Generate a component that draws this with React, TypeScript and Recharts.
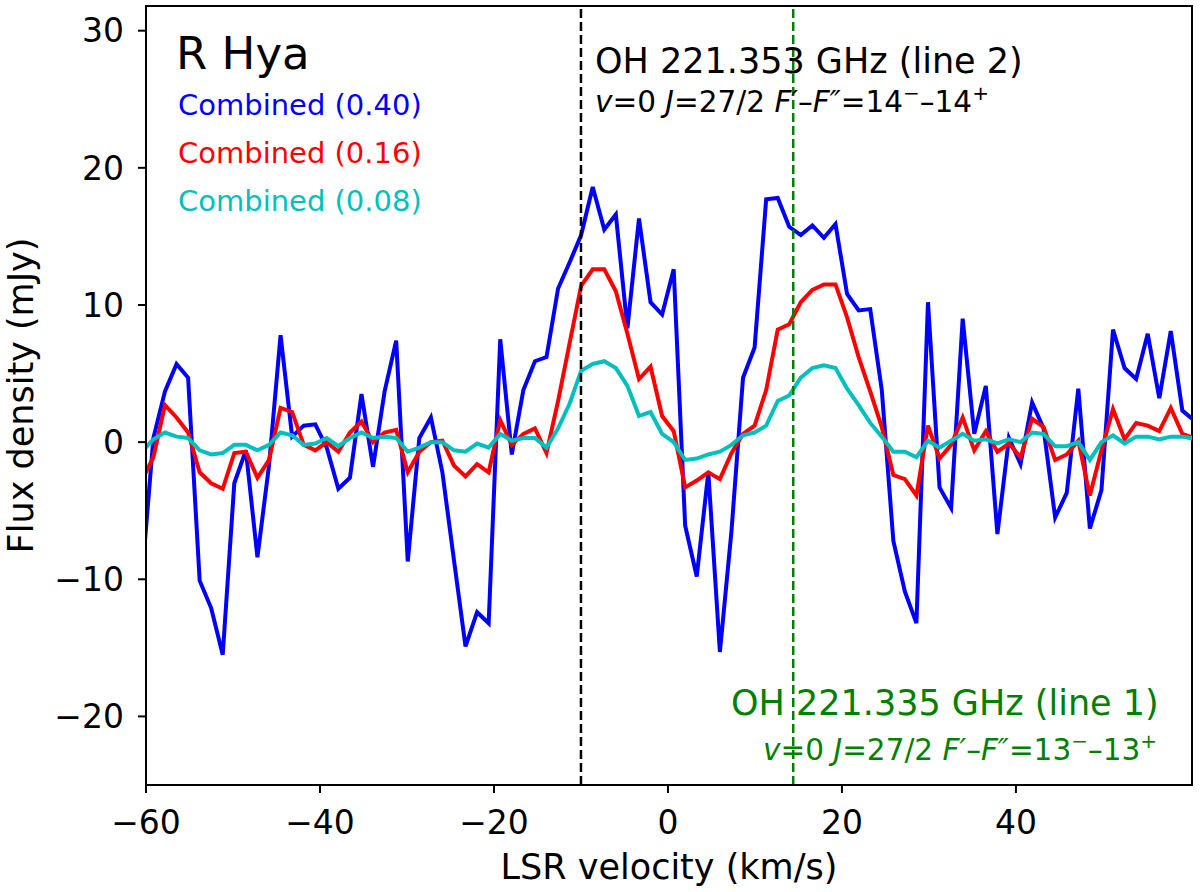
import {
    LineChart,
    Line,
    XAxis,
    YAxis,
    ReferenceLine,
    ReferenceArea,
} from 'recharts'

// channel velocities (km/s)
const VELOCITY = [
    -60.48, -59.15, -57.82, -56.49, -55.16, -53.83, -52.51, -51.18, -49.85, -48.52,
    -47.19, -45.86, -44.53, -43.2, -41.87, -40.54, -39.22, -37.89, -36.56, -35.23,
    -33.9, -32.57, -31.24, -29.91, -28.58, -27.25, -25.93, -24.6, -23.27, -21.94,
    -20.61, -19.28, -17.95, -16.62, -15.29, -13.96, -12.63, -11.31, -9.98, -8.65,
    -7.32, -5.99, -4.66, -3.33, -2.0, -0.67, 0.66, 1.98, 3.31, 4.64,
    5.97, 7.3, 8.63, 9.96, 11.29, 12.62, 13.94, 15.27, 16.6, 17.93,
    19.26, 20.59, 21.92, 23.25, 24.58, 25.91, 27.24, 28.56, 29.89, 31.22,
    32.55, 33.88, 35.21, 36.54, 37.87, 39.2, 40.53, 41.86, 43.18, 44.51,
    45.84, 47.17, 48.5, 49.83, 51.16, 52.49, 53.82, 55.15, 56.48, 57.8,
    59.13, 60.46,
]

// flux density (mJy), Combined (0.40)
const COMBINED_040 = [
    -10.0, 0.3, 3.7, 5.7, 4.7, -10.1, -12.1, -15.5, -3.0, -0.6,
    -8.4, -1.7, 7.8, 0.4, 1.2, 1.3, -0.4, -3.4, -2.6, 3.5,
    -1.8, 3.7, 7.4, -8.7, 0.3, 1.8, -2.2, -8.6, -14.9, -12.4,
    -13.2, 7.5, -0.9, 3.8, 5.9, 6.2, 11.2, 13.1, 15.1, 18.6,
    15.5, 16.6, 8.3, 16.3, 10.2, 9.3, 12.6, -6.1, -9.8, -2.2,
    -15.3, -6.5, 4.7, 6.9, 17.7, 17.8, 15.7, 15.1, 15.8, 14.9,
    15.9, 10.8, 9.6, 9.7, 3.8, -7.2, -10.9, -13.2, 10.2, -3.3,
    -4.8, 9.0, 0.6, 4.1, -6.7, 0.3, -1.6, 2.9, 1.0, -5.5,
    -3.7, 3.9, -6.3, -3.5, 8.2, 5.4, 4.6, 7.9, 3.2, 8.1,
    2.3, 1.6,
]

// Combined (0.16)
const COMBINED_016 = [
    -2.8, -1.1, 2.7, 1.8, 0.7, -2.2, -3.0, -3.4, -0.8, -0.7,
    -2.6, -1.3, 2.5, 2.2, -0.2, -0.6, 0.0, -0.7, 0.7, 1.5,
    0.0, 0.7, 0.9, -2.2, -0.7, 0.0, 0.1, -1.7, -2.5, -1.6,
    -2.2, 1.6, -0.2, 0.6, 1.0, -0.8, 3.0, 7.2, 11.4, 12.6,
    12.6, 11.0, 7.9, 4.6, 5.5, 1.9, 0.8, -3.3, -2.8, -2.2,
    -2.7, -0.8, 0.6, 1.2, 3.8, 8.2, 8.6, 10.2, 11.1, 11.5,
    11.5, 9.1, 6.2, 3.7, 1.1, -2.4, -2.7, -3.9, 1.2, -1.2,
    -0.2, 1.8, -0.6, 0.8, -0.7, -0.1, -1.1, 1.7, 1.1, -1.3,
    -0.9, 0.1, -3.9, -0.6, 2.4, 0.2, 1.4, 1.2, 0.8, 2.5,
    0.6, 0.3,
]

// Combined (0.08)
const COMBINED_008 = [
    -0.7, 0.2, 0.7, 0.4, 0.3, -0.6, -0.9, -0.8, -0.2, -0.2,
    -0.6, -0.2, 0.7, 0.5, -0.2, -0.1, 0.3, -0.3, 0.3, 0.7,
    0.3, 0.4, 0.3, -0.7, -0.4, 0.0, 0.0, -0.6, -0.7, -0.1,
    -0.4, 0.6, 0.1, 0.3, 0.3, -0.4, 1.0, 2.8, 5.2, 5.7,
    5.9, 5.4, 4.1, 1.9, 2.2, 0.6, 0.0, -1.3, -1.2, -0.9,
    -0.7, -0.2, 0.5, 0.7, 1.2, 3.0, 3.4, 4.7, 5.4, 5.6,
    5.4, 3.9, 2.7, 1.4, 0.4, -0.7, -0.7, -1.1, 0.1, -0.4,
    0.1, 0.6, 0.1, 0.2, -0.1, 0.2, 0.0, 0.7, 0.6, -0.3,
    -0.3, 0.0, -1.3, 0.0, 0.5, -0.1, 0.4, 0.4, 0.2, 0.4,
    0.4, 0.25,
]

const X_TICKS = [-60, -40, -20, 0, 20, 40]
const Y_TICKS = [-20, -10, 0, 10, 20, 30]
const X_DOMAIN = [-60, 60.24]
const Y_DOMAIN = [-25, 31.8]

const LINE2_V = -10 // OH 221.353 GHz
const LINE1_V = 14.4 // OH 221.335 GHz

const SERIES = [
    { key: 'c040', label: 'Combined (0.40)', color: '#0000ff', values: COMBINED_040 },
    { key: 'c016', label: 'Combined (0.16)', color: '#ff0000', values: COMBINED_016 },
    { key: 'c008', label: 'Combined (0.08)', color: '#00bfbf', values: COMBINED_008 },
]

const data = VELOCITY.map((v, i) => {
    const row: Record<string, number> = { v }
    SERIES.forEach(s => { row[s.key] = s.values[i] })
    return row
})

const FONT = '"DejaVu Sans", sans-serif'
const fmt = (v: number) => (v < 0 ? `\u2212${-v}` : `${v}`)

const W = 1200
const H = 892

// "v=0 J=27/2 F'–F''=N⁻–N⁺" with italic symbols and raised signs
const Transition = ({ n }: { n: number }) => (
    <>
        <tspan fontStyle="italic">v</tspan>
        <tspan>{'=0 '}</tspan>
        <tspan fontStyle="italic">J</tspan>
        <tspan>{'=27/2 '}</tspan>
        <tspan fontStyle="italic">{'F\u2032'}</tspan>
        <tspan>{'\u2013'}</tspan>
        <tspan fontStyle="italic">{'F\u2033'}</tspan>
        <tspan>{`=${n}`}</tspan>
        <tspan dy={-12} fontSize={20}>{'\u2212'}</tspan>
        <tspan dy={12}>{`\u2013${n}`}</tspan>
        <tspan dy={-12} fontSize={20}>+</tspan>
    </>
)

export default function App() {
    return (
        <div style={{ position: 'relative', width: W, height: H, fontFamily: FONT }}>
            <style>{'body{margin:0}'}</style>
            <LineChart width={W} height={H} data={data} margin={{ top: 6, right: 8, left: 0, bottom: 0 }}>
                <XAxis
                    dataKey="v"
                    type="number"
                    domain={X_DOMAIN}
                    allowDataOverflow
                    ticks={X_TICKS}
                    tickFormatter={fmt}
                    height={107}
                    tickSize={8}
                    tickMargin={18}
                    axisLine={{ stroke: '#000', strokeWidth: 2 }}
                    tickLine={{ stroke: '#000', strokeWidth: 2 }}
                    tick={{ fontSize: 33, fill: '#000', fontFamily: FONT }}
                    label={{
                        value: 'LSR velocity (km/s)',
                        position: 'insideBottom',
                        offset: 13,
                        style: { fontSize: 35, fill: '#000', fontFamily: FONT },
                    }}
                />
                <YAxis
                    type="number"
                    domain={Y_DOMAIN}
                    allowDataOverflow
                    ticks={Y_TICKS}
                    tickFormatter={fmt}
                    width={146}
                    tickSize={8}
                    tickMargin={14}
                    axisLine={{ stroke: '#000', strokeWidth: 2 }}
                    tickLine={{ stroke: '#000', strokeWidth: 2 }}
                    tick={{ fontSize: 33, fill: '#000', fontFamily: FONT }}
                    label={{
                        value: 'Flux density (mJy)',
                        angle: -90,
                        position: 'insideLeft',
                        offset: 21,
                        style: { fontSize: 35, fill: '#000', fontFamily: FONT, textAnchor: 'middle' },
                    }}
                />

                {SERIES.map(s => (
                    <Line
                        key={s.key}
                        dataKey={s.key}
                        type="linear"
                        stroke={s.color}
                        strokeWidth={4}
                        dot={false}
                        activeDot={false}
                        isAnimationActive={false}
                    />
                ))}

                <ReferenceLine x={LINE2_V} stroke="#000" strokeWidth={2.5} strokeDasharray="9 4" />
                <ReferenceLine x={LINE1_V} stroke="#008000" strokeWidth={2.5} strokeDasharray="9 4" />

                {/* frame */}
                <ReferenceArea
                    x1={X_DOMAIN[0]}
                    x2={X_DOMAIN[1]}
                    y1={Y_DOMAIN[0]}
                    y2={Y_DOMAIN[1]}
                    fill="none"
                    fillOpacity={0}
                    stroke="#000"
                    strokeWidth={2}
                />
            </LineChart>

            {/* annotations */}
            <svg
                width={W}
                height={H}
                style={{ position: 'absolute', left: 0, top: 0, pointerEvents: 'none' }}
                fontFamily={FONT}
            >
                <text x={176} y={69} fontSize={45} fill="#000">R Hya</text>
                {SERIES.map((s, i) => (
                    <text key={s.key} x={178} y={115 + i * 48} fontSize={29} fill={s.color}>
                        {s.label}
                    </text>
                ))}

                <text x={595} y={73} fontSize={35} fill="#000">OH 221.353 GHz (line 2)</text>
                <text x={595} y={112} fontSize={29.5} fill="#000">
                    <Transition n={14} />
                </text>

                <text x={731} y={715} fontSize={35} fill="#008000">OH 221.335 GHz (line 1)</text>
                <text x={1157} y={760} fontSize={29.5} fill="#008000" textAnchor="end">
                    <Transition n={13} />
                </text>
            </svg>
        </div>
    )
}
